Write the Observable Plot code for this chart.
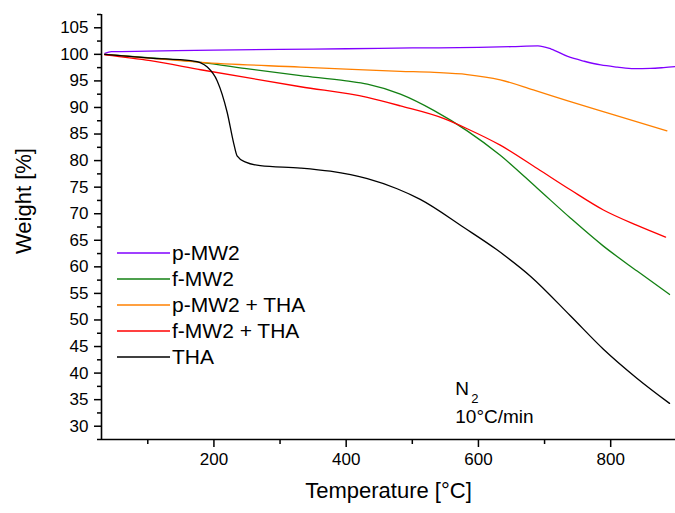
<!DOCTYPE html>
<html>
<head>
<meta charset="utf-8">
<script src="https://cdn.jsdelivr.net/npm/d3@7"></script>
<script src="https://cdn.jsdelivr.net/npm/@observablehq/plot@0.6"></script>
<style>
  html, body { margin: 0; padding: 0; background: #fff; }
  #chart { width: 675px; height: 513px; }
</style>
</head>
<body>
<div id="chart"></div>
<script>
// ---- data ----
const seriesNames = ["p-MW2", "f-MW2", "p-MW2 + THA", "f-MW2 + THA", "THA"];
const seriesColors = ["#8000ff", "#138013", "#ff8000", "#ff0000", "#000000"];

const pMW2_T = [35, 45, 100, 200, 300, 400, 500, 600, 650, 690, 710, 735, 760, 785, 810, 835, 860, 880, 900];
const pMW2_W = [100.2, 100.5, 100.6, 100.8, 100.95, 101.05, 101.2, 101.3, 101.45, 101.6, 101.0, 99.6, 98.7, 98.0, 97.6, 97.3, 97.35, 97.5, 97.7];

const fMW2_T = [35, 100, 180, 255, 331, 400, 432, 482, 533, 583, 633, 689, 739, 789, 840, 889];
const fMW2_W = [100, 99.4, 98.5, 97.2, 96.0, 95.0, 94.4, 92.5, 89.4, 85.6, 81.0, 74.8, 69.2, 63.9, 59.2, 54.8];

const pMW2THA_T = [35, 100, 180, 331, 400, 482, 533, 583, 633, 683, 734, 800, 885];
const pMW2THA_W = [100, 99.3, 98.5, 97.6, 97.2, 96.8, 96.6, 96.2, 95.2, 93.3, 91.3, 88.8, 85.6];

const fMW2THA_T = [35, 104, 180, 331, 432, 482, 548, 583, 633, 689, 739, 789, 840, 883];
const fMW2THA_W = [99.9, 98.8, 97.1, 93.9, 91.9, 90.3, 87.9, 86.0, 82.9, 78.5, 74.5, 70.7, 67.8, 65.6];

const THA_T = [35, 104, 165, 180, 190, 205, 220, 230, 235, 248, 270, 331, 376, 432, 477, 512, 578, 628, 679, 739, 789, 840, 889];
const THA_W = [100, 99.3, 98.8, 98.4, 97.6, 95.0, 89.1, 83.2, 80.9, 79.7, 79.05, 78.6, 78.0, 76.6, 74.7, 72.7, 67.4, 63.2, 58.2, 50.8, 44.5, 39.0, 34.3];

const xMajorTicks = [200, 400, 600, 800];
const xMinorTicks = [100, 300, 500, 700];
const yMajorTicks = [30, 35, 40, 45, 50, 55, 60, 65, 70, 75, 80, 85, 90, 95, 100, 105];
const yMinorTicks = [27.5, 32.5, 37.5, 42.5, 47.5, 52.5, 57.5, 62.5, 67.5, 72.5, 77.5, 82.5, 87.5, 92.5, 97.5, 102.5, 107.5];
const xDomain = [30, 898];
const yDomain = [27.5, 107.5];

const xTitle = "Temperature [°C]";
const yTitle = "Weight [%]";
const noteMain = "N";
const noteSub = "2";
const noteRate = "10°C/min";
const noteX = 565;
const noteY1 = 37.1;
const noteY2 = 31.8;

// ---- build table ----
const seriesT = [pMW2_T, fMW2_T, pMW2THA_T, fMW2THA_T, THA_T];
const seriesW = [pMW2_W, fMW2_W, pMW2THA_W, fMW2THA_W, THA_W];
const rows = [];
seriesNames.forEach((name, i) => {
  seriesT[i].forEach((t, j) => rows.push({series: name, T: t, W: seriesW[i][j]}));
});

const font = "'Liberation Sans', Arial, Helvetica, sans-serif";

const chart = Plot.plot({
  width: 675,
  height: 513,
  marginLeft: 101,
  marginRight: 0,
  marginTop: 14,
  marginBottom: 74,
  style: {fontFamily: font, fontSize: "17px", color: "black", background: "white", overflow: "visible"},
  x: {domain: xDomain, label: null},
  y: {domain: yDomain, label: null},
  color: {domain: seriesNames, range: seriesColors},
  marks: [
    Plot.line(rows, {x: "T", y: "W", z: "series", stroke: "series", strokeWidth: 1.3, curve: "monotone-x"}),
    Plot.axisX(xMinorTicks, {tickSize: 5, strokeWidth: 1.5, tickFormat: () => "", label: null}),
    Plot.axisX(xMajorTicks, {tickSize: 8, tickPadding: 5, strokeWidth: 1.5, label: null, fontSize: 17}),
    Plot.axisY(yMinorTicks, {tickSize: 4, strokeWidth: 1.5, tickFormat: () => "", label: null}),
    Plot.axisY(yMajorTicks, {tickSize: 7, tickPadding: 6, strokeWidth: 1.5, label: null, fontSize: 17}),
    Plot.ruleX([xDomain[0]], {strokeWidth: 1.6}),
    Plot.ruleY([yDomain[0]], {strokeWidth: 1.6}),
    Plot.text([xTitle], {frameAnchor: "bottom", dy: 58, fontSize: 22, fill: "black"}),
    Plot.text([yTitle], {frameAnchor: "left", dx: -78, dy: 27, rotate: -90, fontSize: 22, fill: "black"}),
    Plot.text([noteMain], {x: () => noteX, y: () => noteY1, text: d => d, textAnchor: "start", fontSize: 19, fill: "black"}),
    Plot.text([noteSub], {x: () => noteX, y: () => noteY1, text: d => d, textAnchor: "start", dx: 16, dy: 10, fontSize: 13, fill: "black"}),
    Plot.text([noteRate], {x: () => noteX, y: () => noteY2, text: d => d, textAnchor: "start", fontSize: 19, fill: "black"})
  ]
});

// ---- legend inside the plot (lower-left area) ----
const svg = d3.select(chart);
const lg = svg.append("g").attr("font-family", font).attr("font-size", 21).attr("text-anchor", "start");
seriesNames.forEach((name, i) => {
  const y = 253 + i * 26;
  lg.append("line").attr("x1", 117).attr("x2", 170).attr("y1", y).attr("y2", y)
    .attr("stroke", seriesColors[i]).attr("stroke-width", 1.5);
  lg.append("text").attr("x", 172).attr("y", y).attr("dy", "0.35em")
    .attr("text-anchor", "start").attr("fill", "black").text(name);
});

document.getElementById("chart").appendChild(chart);
</script>
</body>
</html>
